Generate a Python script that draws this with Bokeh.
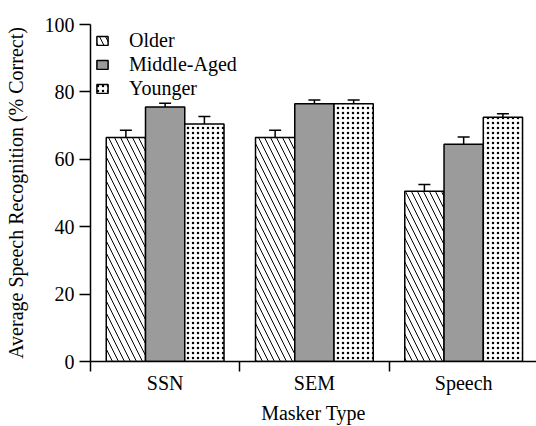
import numpy as np
from bokeh.plotting import figure
from bokeh.models import Range1d, FixedTicker, Whisker, ColumnDataSource, Legend, LegendItem, TeeHead
from bokeh.embed import file_html
from bokeh.resources import INLINE

categories = ["SSN", "SEM", "Speech"]
groups = ["Older", "Middle-Aged", "Younger"]
older = [66.5, 66.5, 50.5]
middle = [75.5, 76.5, 64.5]
younger = [70.5, 76.5, 72.5]
older_err = [2.1, 2.1, 2.0]
middle_err = [1.1, 1.1, 2.1]
younger_err = [2.2, 1.1, 1.0]
y_ticks = [0, 20, 40, 60, 80, 100]
x_title = "Masker Type"
y_title = "Average Speech Recognition (% Correct)"

FONT = "Liberation Serif"

p = figure(width=536, height=426, output_backend="svg", toolbar_location=None,
           x_range=Range1d(0, 2.988), y_range=Range1d(0, 100),
           min_border_left=90, min_border_right=0, min_border_top=24, min_border_bottom=65)
p.outline_line_color = None
p.xgrid.visible = False
p.ygrid.visible = False
p.background_fill_color = "white"

bw = 0.263
offsets = [-bw, 0.0, bw]
styles = [
    dict(fill_color="white", hatch_pattern="\\", hatch_color="black", hatch_scale=12, hatch_weight=1),
    dict(fill_color="#9b9b9b"),
    dict(fill_color="white", hatch_pattern=".", hatch_color="black", hatch_scale=5, hatch_weight=4.5),
]
vals = [older, middle, younger]
errs = [older_err, middle_err, younger_err]
items = []
for gi, (g, v, e, st, off) in enumerate(zip(groups, vals, errs, styles, offsets)):
    xs = np.arange(len(categories)) + 0.5 + off
    src = ColumnDataSource(dict(x=xs, top=v, upper=np.array(v) + np.array(e)))
    r = p.vbar(x="x", top="top", bottom=0, width=bw, source=src,
               line_color="black", line_width=1.5, **st)
    items.append(LegendItem(label=g, renderers=[r]))
    w = Whisker(base="x", lower="top", upper="upper", source=src, dimension="height",
                line_color="black", line_width=1.5,
                upper_head=TeeHead(size=12, line_color="black", line_width=1.5), lower_head=None)
    p.add_layout(w)

legend = Legend(items=items, location="top_left", margin=0, padding=5,
                glyph_width=14, glyph_height=11, label_standoff=20, spacing=1,
                label_text_font=FONT, label_text_font_size="20px", label_height=20,
                label_text_color="black",
                background_fill_alpha=0, border_line_alpha=0)
p.add_layout(legend)

xa = p.xaxis[0]
xa.ticker = FixedTicker(ticks=[0.5, 1.5, 2.5], minor_ticks=[0, 1, 2, 3])
xa.major_label_overrides = {0.5: categories[0], 1.5: categories[1], 2.5: categories[2]}
xa.major_tick_out = 0
xa.major_tick_in = 0
xa.minor_tick_out = 10
xa.minor_tick_in = 0
xa.minor_tick_line_color = "black"
xa.minor_tick_line_width = 1.5
xa.major_label_standoff = 0
xa.axis_label = x_title
xa.axis_label_standoff = 5

ya = p.yaxis[0]
ya.ticker = FixedTicker(ticks=y_ticks)
ya.major_tick_out = 11
ya.major_tick_in = 0
ya.major_label_standoff = 5
ya.axis_label = y_title
ya.axis_label_standoff = 15

for ax in (xa, ya):
    ax.axis_line_color = "black"
    ax.axis_line_width = 1.5
    ax.major_tick_line_color = "black"
    ax.major_tick_line_width = 1.5
    ax.major_label_text_font = FONT
    ax.major_label_text_font_size = "20px"
    ax.major_label_text_color = "black"
    ax.axis_label_text_font = FONT
    ax.axis_label_text_font_size = "20px"
    ax.axis_label_text_font_style = "normal"
    ax.axis_label_text_color = "black"

open("out.html", "w").write(file_html(p, INLINE))
